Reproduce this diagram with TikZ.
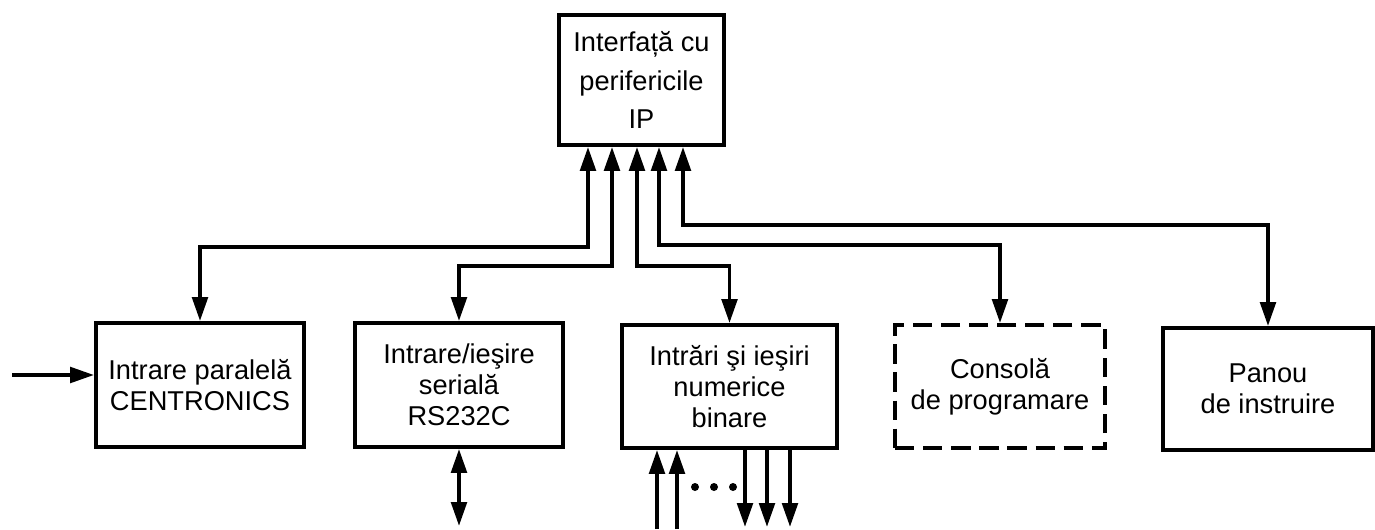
\documentclass[tikz,border=0pt]{standalone}
\usepackage{fontspec}
\setmainfont{Liberation Sans}
\usepackage{tikz}
\usetikzlibrary{positioning,arrows.meta,calc}

\begin{document}
\begin{tikzpicture}[>={Triangle[length=4.8mm,width=3.1mm]},
    line width=2.2pt,
    blk/.style={draw, rectangle, minimum width=4.16cm, minimum height=2.48cm,
      align=center, font=\fontsize{15.5}{17.5}\selectfont, inner sep=2pt},
    topblk/.style={blk, minimum width=3.3cm, minimum height=2.6cm,
      font=\fontsize{15.5}{22}\selectfont},
    dashblk/.style={blk, dash pattern=on 11pt off 5pt}]

\useasboundingbox (0,0) rectangle (27.5,10.58);

% === Central interface ===
\node[topblk] (ip) at (12.83,8.98) {Interfață cu\\perifericile\\IP};

% === Peripheral blocks ===
\node[blk] (par)  at (4.0,2.88)   {Intrare paralelă\\CENTRONICS};
\node[blk] (ser)  at (9.18,2.88)  {Intrare/ieşire\\serială\\RS232C};
\node[blk, minimum width=4.3cm, minimum height=2.46cm] (bin) at (14.59,2.85)
    {Intrări şi ieşiri\\numerice\\binare};
\node[dashblk, minimum width=4.2cm, minimum height=2.46cm] (cons) at (20.0,2.85)
    {Consolă\\de programare};
\node[blk, minimum width=4.2cm, minimum height=2.44cm] (pan) at (25.36,2.8)
    {Panou\\de instruire};

% === Bus taps under the interface ===
\coordinate (t1) at ($(ip.south)+(-1.07,0)$);
\coordinate (t2) at ($(ip.south)+(-0.59,0)$);
\coordinate (t3) at ($(ip.south)+(-0.09,0)$);
\coordinate (t4) at ($(ip.south)+(0.35,0)$);
\coordinate (t5) at ($(ip.south)+(0.83,0)$);

% === Bus levels ===
\coordinate (l1) at (0,5.64);
\coordinate (l2) at (0,5.26);
\coordinate (l4) at (0,5.68);
\coordinate (l5) at (0,6.08);

% === Interface <-> blocks ===
\draw[<->] (t1) |- (l1 -| par.north) -- (par.north);
\draw[<->] (t2) |- (l2 -| ser.north) -- (ser.north);
\draw[<->] (t3) |- (l2 -| bin.north) -- (bin.north);
\draw[<->] (t4) |- (l4 -| cons.north) -- (cons.north);
\draw[<->] (t5) |- (l5 -| pan.north) -- (pan.north);

% === External lines ===
\coordinate (in) at (0.24,3.08);
\draw[->] (in) -- (in -| par.west);

\coordinate (sb) at (9.18,0.06);
\draw[<->] (ser.south) -- (sb);

% binary inputs
\foreach \x [count=\i] in {13.14,13.54} {
  \coordinate (bi\i) at (\x,0);
  \draw[->] (bi\i) -- (bi\i |- bin.south);
}
% binary outputs
\foreach \x [count=\i] in {14.9,15.34,15.8} {
  \coordinate (bo\i) at (\x,0.04);
  \draw[->] (bo\i |- bin.south) -- (bo\i);
}
\node[inner sep=0pt] (dots) at (14.28,0.84) {};
\foreach \dx in {-0.38,0,0.38}
  \fill ($(dots)+(\dx,0)$) circle (0.08);

\end{tikzpicture}
\end{document}
